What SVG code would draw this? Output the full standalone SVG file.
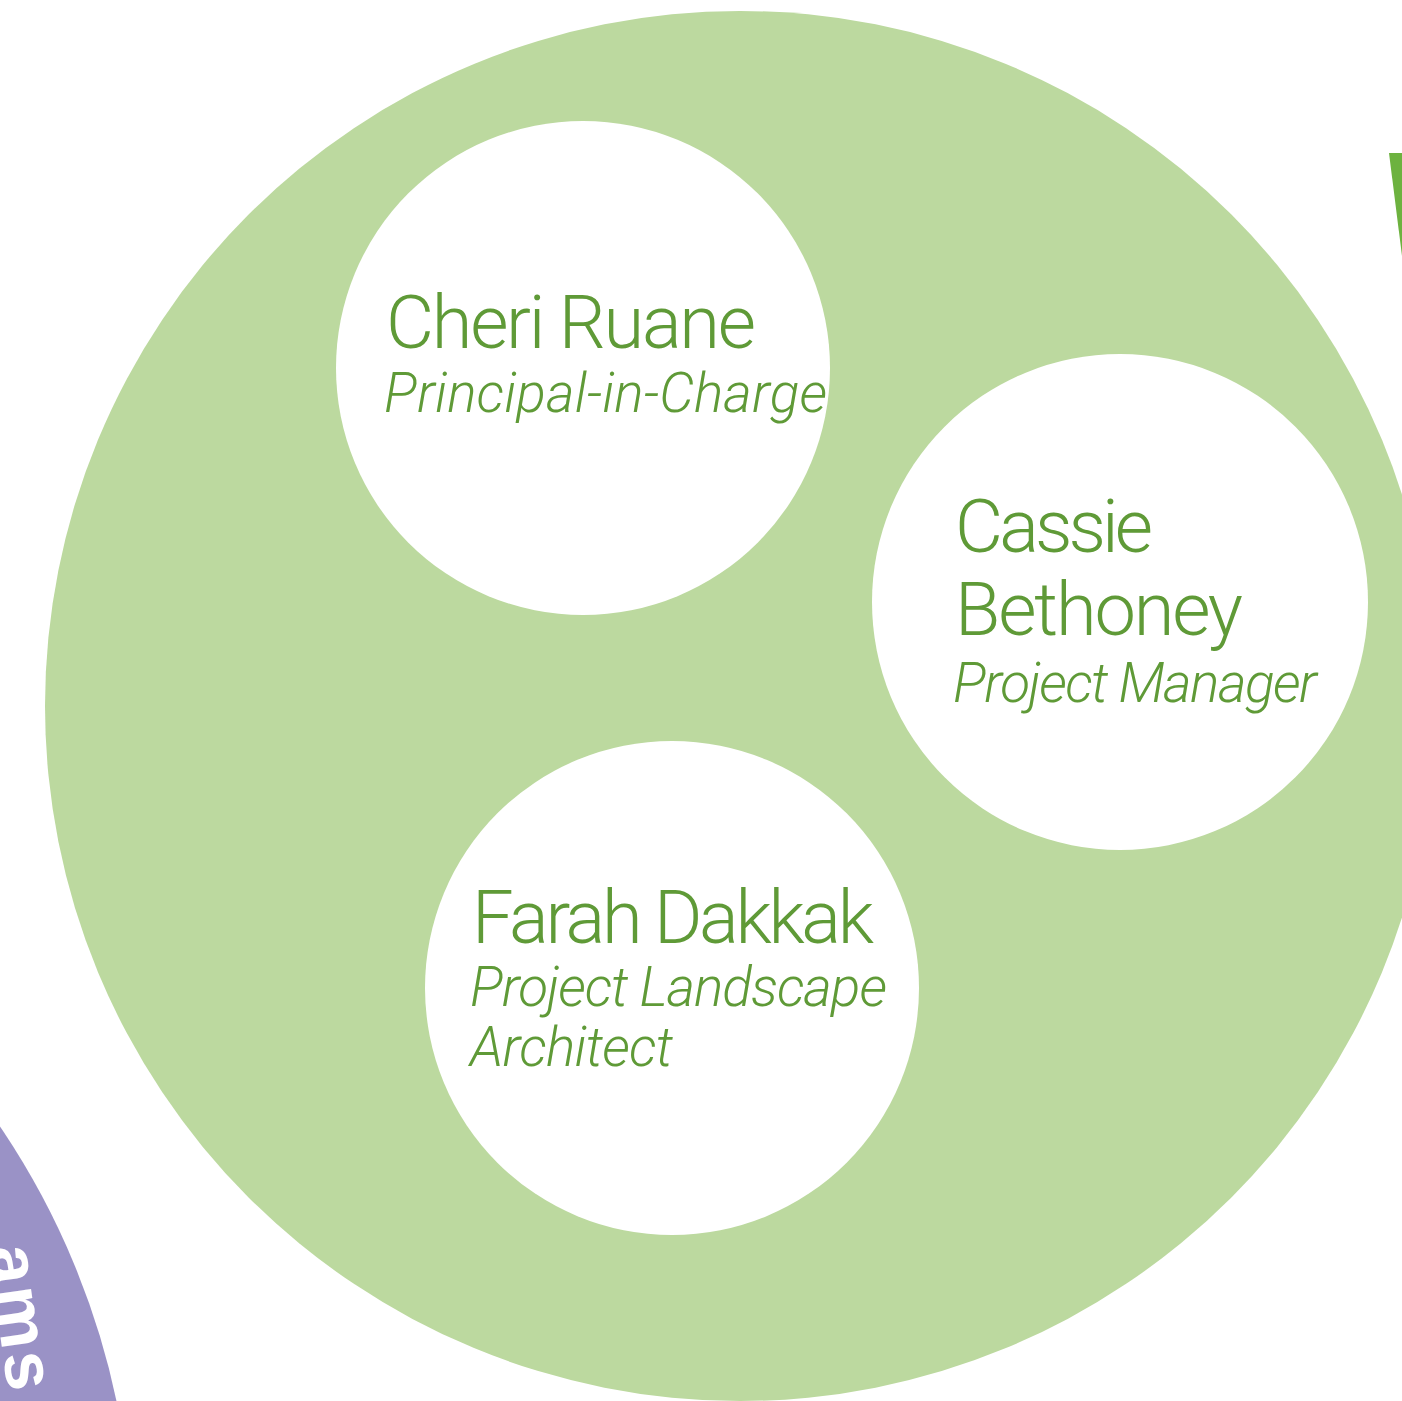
<svg xmlns="http://www.w3.org/2000/svg" width="1402" height="1401" viewBox="0 0 1402 1401">
<style>
.name{font-family:Roboto,"Liberation Sans",sans-serif;font-weight:300;font-size:74px;fill:#5f9a37}
.role{font-family:Roboto,"Liberation Sans",sans-serif;font-weight:300;font-style:italic;font-size:55px;fill:#5f9a37}
.node{fill:#ffffff}
</style>
<rect width="1402" height="1401" fill="#ffffff"/>
<g id="purple-arc">
<circle cx="-640" cy="1560" r="773" fill="#9a92c6"/>
<text x="-12" y="1248" transform="rotate(82 -12 1248)" font-family="'Liberation Sans',sans-serif" font-weight="bold" font-size="70" letter-spacing="3" fill="#ffffff">ams</text>
</g>
<g id="green-mark"><polygon points="1389,153 1402,153 1402,256" fill="#6db23f"/></g>
<g id="team"><circle cx="740" cy="706" r="695" fill="#bcd99f"/></g>
<g id="cheri">
<circle class="node" cx="583" cy="368" r="247"/>
<text class="name" x="386" y="348" textLength="370">Cheri Ruane</text>
<text class="role" x="384" y="412" textLength="443">Principal-in-Charge</text>
</g>
<g id="cassie">
<circle class="node" cx="1120" cy="602" r="248"/>
<text class="name" x="955" y="552" textLength="198">Cassie</text>
<text class="name" x="955" y="635" textLength="288">Bethoney</text>
<text class="role" x="953" y="702" textLength="364">Project Manager</text>
</g>
<g id="farah">
<circle class="node" cx="672" cy="988" r="247"/>
<text class="name" x="472" y="943" textLength="402">Farah Dakkak</text>
<text class="role" x="470" y="1006" textLength="417">Project Landscape</text>
<text class="role" x="470" y="1066" textLength="203">Architect</text>
</g>
<g id="connectors"/>
</svg>
